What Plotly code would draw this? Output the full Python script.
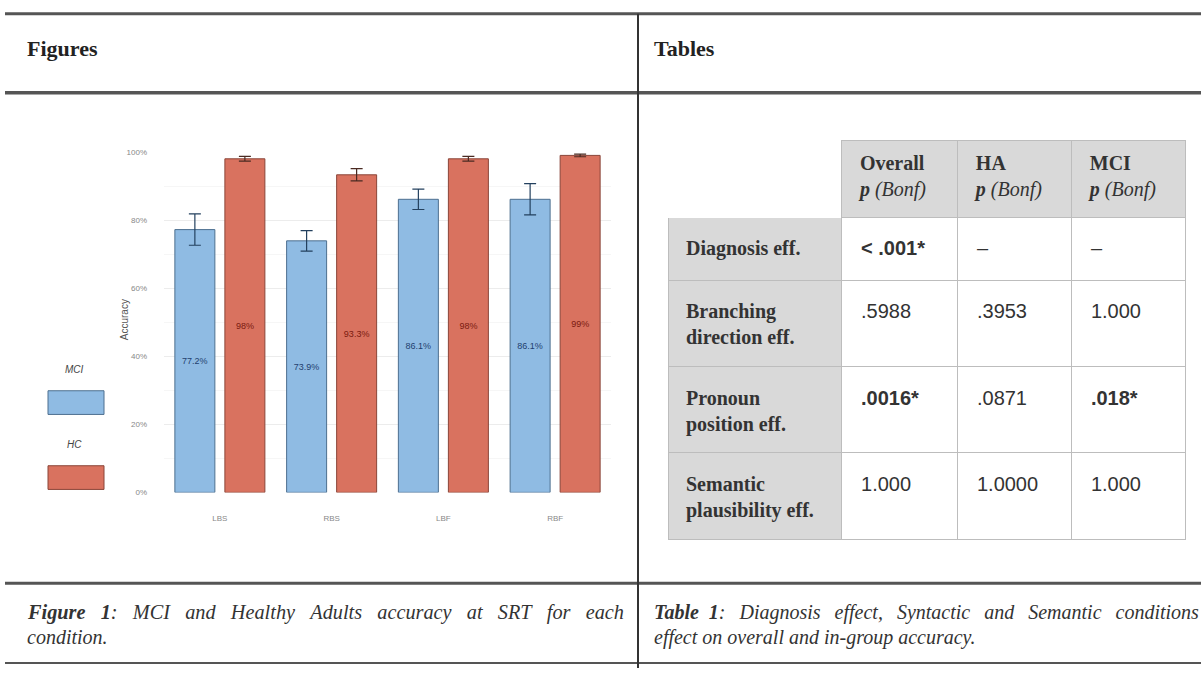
import plotly.graph_objects as go

# ---------------- data ----------------
conditions = ["LBS", "RBS", "LBF", "RBF"]
mci_acc = [0.772, 0.739, 0.861, 0.861]
mci_err = [0.046, 0.030, 0.030, 0.046]
mci_labels = ["77.2%", "73.9%", "86.1%", "86.1%"]
hc_acc = [0.98, 0.933, 0.98, 0.99]
hc_err = [0.007, 0.018, 0.007, 0.004]
hc_labels = ["98%", "93.3%", "98%", "99%"]
y_tickvals = [0, 0.2, 0.4, 0.6, 0.8, 1.0]
y_ticktext = ["0%", "20%", "40%", "60%", "80%", "100%"]

table_header = ["",
                "<b>Overall</b><br><b><i>p</i></b><i> (Bonf)</i>",
                "<b>HA</b><br><b><i>p</i></b><i> (Bonf)</i>",
                "<b>MCI</b><br><b><i>p</i></b><i> (Bonf)</i>"]
row_names = ["<b>Diagnosis eff.</b>", "<b>Branching<br>direction eff.</b>",
             "<b>Pronoun<br>position eff.</b>", "<b>Semantic<br>plausibility eff.</b>"]
overall_p = ["<b>< .001*</b>", ".5988", "<b>.0016*</b>", "1.000"]
ha_p = ["–", ".3953", ".0871", "1.0000"]
mci_p = ["–", "1.000", "<b>.018*</b>", "1.000"]

# ---------------- helpers (pixel -> paper) ----------------
W, H = 1201, 673
def px(x):
    return x / W
def py(y):
    return 1 - y / H

SERIF = "Liberation Serif"
SANS = "Liberation Sans"
NB = "&nbsp;"
PAD = NB * 2
CLEAR = "rgba(0,0,0,0)"
GRID = "#bdbdbd"
SHADE = "#d9d9d9"

def padded(lst):
    return [PAD + s.replace("<br>", "<br>" + PAD) if s else s for s in lst]

# invisible spacer column: two-line rows get an extra blank line so they are taller
spacer = [NB + ("<br>" + NB) * 2 if "<br>" in s else NB for s in row_names]
blank = [NB for _ in row_names]

fig = go.Figure()

fig.add_trace(go.Bar(
    name="MCI", x=conditions, y=mci_acc,
    error_y=dict(type="data", array=mci_err, color="#23405e", thickness=1.2, width=6),
    marker=dict(color="#8fbbe3", line=dict(color="#4d6f8f", width=1)),
    text=mci_labels, textposition="inside", insidetextanchor="middle",
    textfont=dict(size=9, color="#1f3f6f", family=SANS), textangle=0,
    showlegend=False,
))
fig.add_trace(go.Bar(
    name="HC", x=conditions, y=hc_acc,
    error_y=dict(type="data", array=hc_err, color="#4a2a22", thickness=1.2, width=6),
    marker=dict(color="#d9725f", line=dict(color="#8a4538", width=1)),
    text=hc_labels, textposition="inside", insidetextanchor="middle",
    textfont=dict(size=9, color="#7a1a10", family=SANS), textangle=0,
    showlegend=False,
))

col_w = [174, 116, 114, 114, 0.3]
tx0, tx1 = px(668), px(1186.3)

# table grid and shading (no visible text)
fig.add_trace(go.Table(
    domain=dict(x=[tx0, tx1], y=[py(548), py(138)]),
    columnwidth=col_w,
    header=dict(values=["", "", "", "", ""],
                fill_color=["white", SHADE, SHADE, SHADE, CLEAR],
                line_color=["white", GRID, GRID, GRID, CLEAR],
                height=77, font=dict(family=SERIF, size=20, color=CLEAR)),
    cells=dict(values=[blank, blank, blank, blank, spacer],
               fill_color=[SHADE, "white", "white", "white", CLEAR],
               line_color=[GRID, GRID, GRID, GRID, CLEAR], height=63,
               font=dict(family=SERIF, size=[20, 20, 20, 20, 19], color=CLEAR)),
    hoverinfo="skip",
))
# table text, laid over the grid
fig.add_trace(go.Table(
    domain=dict(x=[tx0, tx1], y=[py(562), py(142)]),
    columnwidth=col_w,
    header=dict(values=padded(table_header) + [""], fill_color=CLEAR, line_color=CLEAR,
                align="left", height=85,
                font=dict(family=SERIF, size=20, color="#333333")),
    cells=dict(values=[padded(row_names), padded(overall_p), padded(ha_p), padded(mci_p), spacer],
               fill_color=CLEAR, line_color=CLEAR, align="left", height=63,
               font=dict(family=[SERIF, SANS, SANS, SANS, SANS], size=[20, 20, 20, 20, 19],
                         color=["#333333"] * 4 + [CLEAR])),
))

fig.update_layout(
    width=W, height=H, autosize=False,
    margin=dict(l=0, r=0, t=0, b=0),
    paper_bgcolor="white", plot_bgcolor="white",
    barmode="group", bargap=0.105, bargroupgap=0.2,
    xaxis=dict(domain=[px(164), px(611)], showgrid=False, zeroline=False,
               showline=False, ticks="", ticklabelstandoff=20,
               tickfont=dict(size=8, color="#888888", family=SANS)),
    yaxis=dict(domain=[py(495), py(150)], range=[0, 1.0],
               tickvals=y_tickvals, ticktext=y_ticktext,
               showgrid=True, gridcolor="#ececec", gridwidth=1,
               minor=dict(dtick=0.1, showgrid=True, gridcolor="#f6f6f6"),
               zeroline=False, showline=False, ticks="", ticklabelstandoff=16,
               tickfont=dict(size=8, color="#888888", family=SANS)),
)

line_col = "#555555"
shapes = [
    dict(type="line", xref="paper", yref="paper", x0=px(5), x1=1, y0=py(10), y1=py(10),
         line=dict(color=line_col, width=3)),
    dict(type="line", xref="paper", yref="paper", x0=px(5), x1=1, y0=py(90), y1=py(90),
         line=dict(color=line_col, width=3.5)),
    dict(type="line", xref="paper", yref="paper", x0=px(5), x1=1, y0=py(587), y1=py(587),
         line=dict(color=line_col, width=3)),
    dict(type="line", xref="paper", yref="paper", x0=px(5), x1=1, y0=py(668), y1=py(668),
         line=dict(color=line_col, width=2)),
    dict(type="line", xref="paper", yref="paper", x0=px(638), x1=px(638), y0=py(10), y1=0,
         line=dict(color="#333333", width=2)),
    # legend keys
    dict(type="rect", xref="paper", yref="paper", x0=px(48), x1=px(104), y0=py(416), y1=py(392),
         fillcolor="#8fbbe3", line=dict(color="#4d6f8f", width=1)),
    dict(type="rect", xref="paper", yref="paper", x0=px(48), x1=px(104), y0=py(492), y1=py(468),
         fillcolor="#d9725f", line=dict(color="#8a4538", width=1)),
]
fig.update_layout(shapes=shapes)

g1 = NB * 3
g2 = NB * 2 + "&#8201;"
annots = [
    dict(x=px(25), y=py(45), text="<b>Figures</b>", font=dict(family=SERIF, size=22, color="#222")),
    dict(x=px(652), y=py(45), text="<b>Tables</b>", font=dict(family=SERIF, size=22, color="#222")),
    dict(x=px(74), y=py(370), xanchor="center", text="<i>MCI</i>",
         font=dict(family=SANS, size=10, color="#444")),
    dict(x=px(74), y=py(446), xanchor="center", text="<i>HC</i>",
         font=dict(family=SANS, size=10, color="#444")),
    dict(x=px(25), y=py(617),
         text="<b><i>Figure" + NB * 3 + "1</i></b><i>:" + g1.join(
             ["", "MCI", "and", "Healthy", "Adults", "accuracy", "at", "SRT", "for", "each"]) + "</i>",
         font=dict(family=SERIF, size=20.3, color="#333")),
    dict(x=px(25), y=py(642), text="<i>condition.</i>", font=dict(family=SERIF, size=20, color="#333")),
    dict(x=px(652), y=py(617),
         text="<b><i>Table" + NB * 2 + "1</i></b><i>:" + g2.join(
             ["", "Diagnosis", "effect,", "Syntactic", "and", "Semantic", "conditions"]) + "</i>",
         font=dict(family=SERIF, size=20, color="#333")),
    dict(x=px(652), y=py(642), text="<i>effect on overall and in-group accuracy.</i>",
         font=dict(family=SERIF, size=20, color="#333")),
]
for a in annots:
    a.setdefault("xanchor", "left")
    a.update(xref="paper", yref="paper", yanchor="middle", showarrow=False)
annots.append(dict(x=px(117), y=py(320), xref="paper", yref="paper", text="Accuracy",
                   textangle=-90, showarrow=False, font=dict(family=SANS, size=10, color="#555")))
fig.update_layout(annotations=annots)

fig.write_html("out.html", config={"displayModeBar": False},
               post_script="document.body.style.margin='0';document.body.style.overflow='hidden';")
